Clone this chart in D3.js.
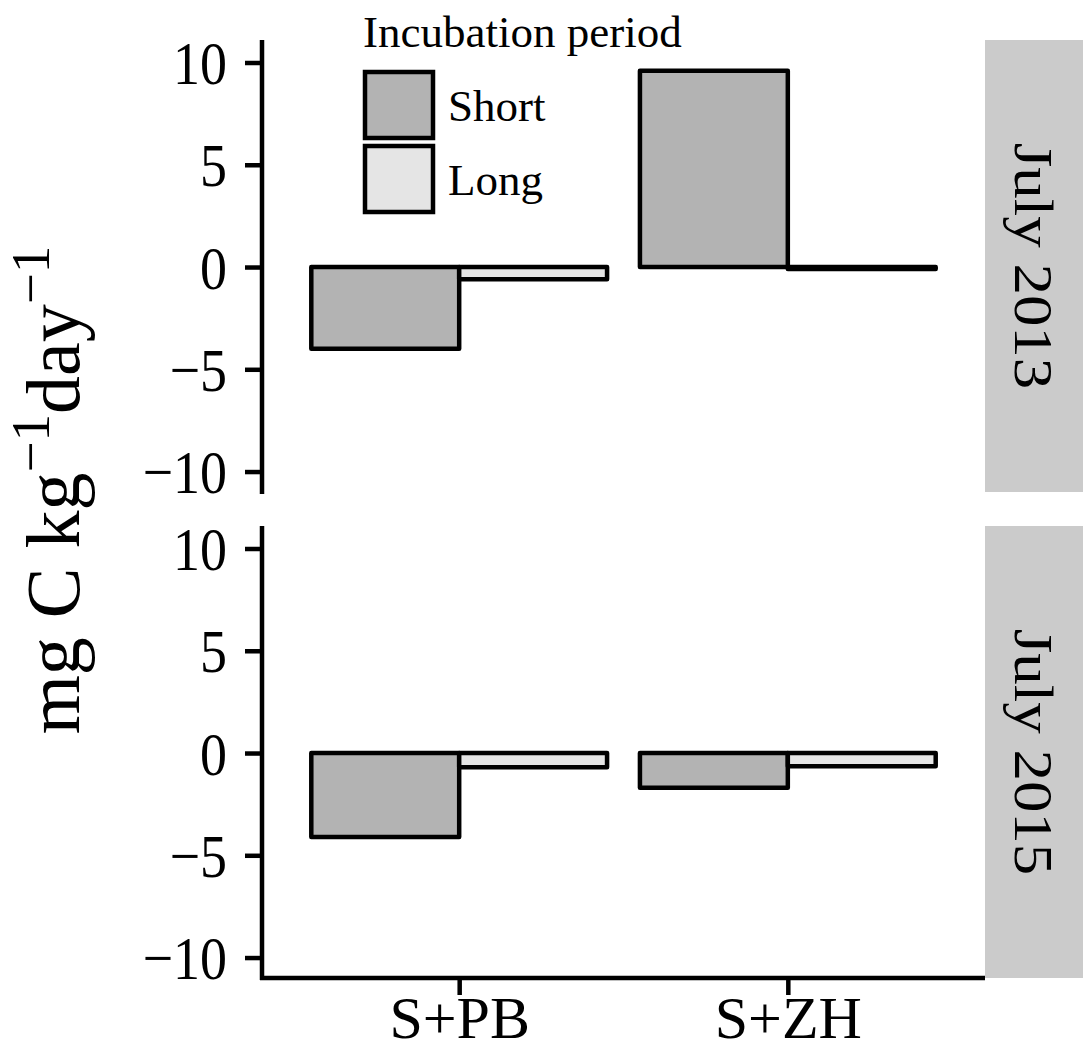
<!DOCTYPE html>
<html>
<head>
<meta charset="utf-8">
<script src="https://cdn.jsdelivr.net/npm/d3@7/dist/d3.min.js"></script>
<style>
  body { margin: 0; background: #fff; }
  text { font-family: "Liberation Serif", "Times New Roman", serif; fill: #000; }
</style>
</head>
<body>
<div id="plot"></div>
<script>

// data
var treatments = ["S+PB", "S+ZH"];
var periods = ["Short", "Long"];
var dates = ["July 2013", "July 2015"];

var short2013 = [-4.0, 9.6];
var long2013 = [-0.6, -0.1];
var short2015 = [-4.1, -1.7];
var long2015 = [-0.7, -0.65];

var yTicks = [-10, -5, 0, 5, 10];
var yLimits = [-11.0, 11.1];

var panels = [
	{ date: dates[0], values: [short2013, long2013] },
	{ date: dates[1], values: [short2015, long2015] }
];

var fills = { "Short": "#b3b3b3", "Long": "#e5e5e5" };

var width = 1083, height = 1054;
var left = 262, right = 985, stripW = 98;
var panelTops = [40, 526];
var panelH = 452;
var squeeze = 0.87;

var svg = d3.select("#plot")
	.append("svg")
	.attr("width", width)
	.attr("height", height);

var x = d3.scalePoint()
	.domain(treatments)
	.range([left, right])
	.padding(0.6);

var xSub = d3.scaleBand()
	.domain(periods)
	.range([-0.45 * x.step(), 0.45 * x.step()]);

panels.forEach(function(panel, pi){

	var top = panelTops[pi];
	var y = d3.scaleLinear()
		.domain(yLimits)
		.range([top + panelH, top]);

	// bars
	var rows = [];
	treatments.forEach(function(t, ti){
		periods.forEach(function(p, k){
			rows.push({ t: t, p: p, v: panel.values[k][ti] });
		});
	});

	svg.append("g").selectAll("rect")
		.data(rows)
		.enter().append("rect")
		.attr("x", function(d){ return x(d.t) + xSub(d.p); })
		.attr("width", xSub.bandwidth())
		.attr("y", function(d){ return y(Math.max(0, d.v)); })
		.attr("height", function(d){ return Math.abs(y(d.v) - y(0)); })
		.attr("fill", function(d){ return fills[d.p]; })
		.attr("stroke", "#000")
		.attr("stroke-width", 4.5)
		.attr("stroke-linejoin", "round");

	// y axis
	var yAxis = svg.append("g")
		.attr("transform", "translate(" + left + ",0)")
		.call(d3.axisLeft(y).tickValues(yTicks).tickSize(17).tickPadding(17)
			.tickFormat(function(d){ return d < 0 ? "\u2212" + Math.abs(d) : d; }));
	yAxis.select(".domain").remove();
	yAxis.selectAll(".tick line").attr("stroke-width", 4.5);
	yAxis.selectAll(".tick text")
		.attr("font-size", 62)
		.attr("x", -35 / squeeze)
		.attr("dy", "0.34em")
		.attr("transform", "scale(" + squeeze + ",1)")
		.style("font-family", "'Liberation Serif', 'Times New Roman', serif");
	yAxis.append("line")
		.attr("x1", 0).attr("x2", 0)
		.attr("y1", top).attr("y2", top + panelH + 2)
		.attr("stroke", "#000")
		.attr("stroke-width", 4.5);

	// strip
	svg.append("rect")
		.attr("x", right)
		.attr("y", top)
		.attr("width", stripW)
		.attr("height", panelH)
		.attr("fill", "#cbcbcb");

	svg.append("text")
		.attr("transform", "translate(" + (right + stripW / 2) + "," + (top + panelH / 2) + ") scale(" + squeeze + ",1) rotate(90)")
		.attr("text-anchor", "middle")
		.attr("dy", "0.35em")
		.attr("font-size", 63)
		.text(panel.date);

	// x axis on bottom panel only
	if (pi === panels.length - 1) {
		var xAxis = svg.append("g")
			.attr("transform", "translate(0," + (top + panelH) + ")")
			.call(d3.axisBottom(x).tickSize(17).tickPadding(14));
		xAxis.select(".domain").remove();
		xAxis.selectAll(".tick line").attr("stroke-width", 4.5);
		xAxis.selectAll(".tick text")
			.attr("font-size", 60)
			.attr("y", 60)
			.attr("dy", 0)
			.style("font-family", "'Liberation Serif', 'Times New Roman', serif");
		xAxis.append("line")
			.attr("x1", left - 2).attr("x2", right)
			.attr("y1", 0).attr("y2", 0)
			.attr("stroke", "#000")
			.attr("stroke-width", 4.5);
	}
});

// y axis title with superscripts
var title = svg.append("text")
	.attr("transform", "translate(79,490) rotate(-90)")
	.attr("text-anchor", "middle")
	.attr("font-size", 76);
title.append("tspan").text("mg C kg");
title.append("tspan").attr("font-size", 55).attr("dy", -30).text("\u22121");
title.append("tspan").attr("dy", 30).text("day");
title.append("tspan").attr("font-size", 55).attr("dy", -30).text("\u22121");

// legend
var legend = svg.append("g");
legend.append("text")
	.attr("x", 363)
	.attr("y", 47)
	.attr("font-size", 45)
	.text("Incubation period");

var keys = legend.selectAll("g.key")
	.data(periods)
	.enter().append("g")
	.attr("class", "key")
	.attr("transform", function(d, i){ return "translate(365," + (72 + i * 74) + ")"; });

keys.append("rect")
	.attr("width", 68)
	.attr("height", 66)
	.attr("fill", function(d){ return fills[d]; })
	.attr("stroke", "#000")
	.attr("stroke-width", 4.5);

keys.append("text")
	.attr("x", 83)
	.attr("y", 49)
	.attr("font-size", 45)
	.text(function(d){ return d; });

</script>
</body>
</html>
